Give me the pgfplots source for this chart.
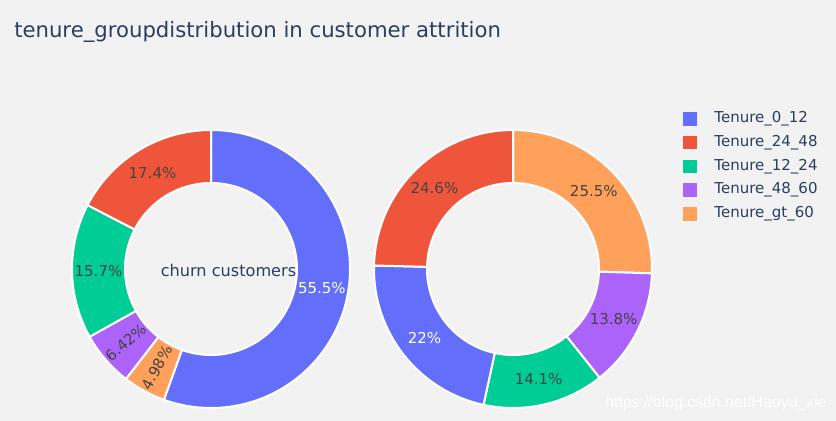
\documentclass[border=0pt]{standalone}
\usepackage{pgfplots}
\pgfplotsset{compat=1.18}
\usepackage{pgfplotstable}
\usepackage{fontspec}
\setmainfont{DejaVu Sans}
\newfontfamily\wmfont{Liberation Sans}

\definecolor{bgc}{HTML}{F2F2F2}
\definecolor{titlec}{HTML}{2A3F5F}
\definecolor{txtdark}{HTML}{444444}
\definecolor{pblue}{HTML}{636EFA}
\definecolor{pred}{HTML}{EF553B}
\definecolor{pgreen}{HTML}{00CC96}
\definecolor{ppurple}{HTML}{AB63FA}
\definecolor{porange}{HTML}{FFA15A}

% slices in drawing order, clockwise from 12 o'clock
\pgfplotstableread{
label value col tc
T0_12 55.5 pblue white
Tgt_60 4.98 porange txtdark
T48_60 6.42 ppurple txtdark
T12_24 15.7 pgreen txtdark
T24_48 17.4 pred txtdark
}\churn
\pgfplotstableread{
label value col tc
Tgt_60 25.5 porange txtdark
T48_60 13.8 ppurple txtdark
T12_24 14.1 pgreen txtdark
T0_12 22 pblue white
T24_48 24.6 pred txtdark
}\other

\newcommand\lblfont{\fontsize{11.25}{13}\selectfont}
\newcommand\titlefont{\fontsize{15.9}{18}\selectfont}
% radii (1px = 0.75pt)
\def\Ro{104.25pt}\def\Ri{64.5pt}\def\Rw{39.75pt}\def\Rm{84.4pt}

\newcommand\donut[3]{%
  \pgfplotstablegetrowsof{#1}\pgfmathtruncatemacro\nlast{\pgfplotsretval-1}%
  \def\cum{0}%
  \pgfplotsforeachungrouped \i in {0,...,\nlast}{%
    \pgfplotstablegetelem{\i}{value}\of{#1}\let\v\pgfplotsretval
    \pgfplotstablegetelem{\i}{col}\of{#1}\let\c\pgfplotsretval
    \pgfplotstablegetelem{\i}{tc}\of{#1}\let\tc\pgfplotsretval
    \pgfmathsetmacro\a{90-3.6*\cum}%
    \pgfmathsetmacro\cum{\cum+\v}%
    \pgfmathsetmacro\b{90-3.6*\cum}%
    \pgfmathsetmacro\m{(\a+\b)/2}%
    \pgfmathsetmacro\rot{\v<8 ? \m+180 : 0}%
    \edef\tmp{%
      \noexpand\fill[\c, draw=white, line width=1.5pt, line join=round]
        (axis cs:#2,#3) ++(\a:\Ro) arc[start angle=\a, end angle=\b, radius=\Ro]
        -- ++(\b:-\Rw) arc[start angle=\b, end angle=\a, radius=\Ri] -- cycle;
      \noexpand\node[text=\tc, font=\noexpand\lblfont, rotate=\rot, inner sep=0pt]
        at ([shift={(\m:\Rm)}]axis cs:#2,#3) {\v\noexpand\%};
    }\tmp
  }}

\begin{document}
\begin{tikzpicture}
\begin{axis}[
  x=0.75pt, y=0.75pt,
  xmin=0, xmax=836, ymin=0, ymax=421,
  hide axis, clip=false,
  legend cell align=left,
  legend style={at={(axis cs:683,310.5)}, anchor=north west,
    draw=none, fill=none, inner sep=0pt, font=\lblfont, text=titlec,
    row sep=5.8pt,
    nodes={inner sep=0pt, text height=9pt, text depth=3pt}},
]
\fill[bgc] (rel axis cs:0,0) rectangle (rel axis cs:1,1);

\donut{\churn}{211}{152}
\donut{\other}{513}{152}

\node[text=titlec, font=\fontsize{12.1}{14}\selectfont] at (axis cs:228.5,151) {churn customers};
\node[anchor=base west, inner sep=0pt, font=\titlefont, text=titlec]
  at (axis cs:14,383.5) {tenure\_groupdistribution in customer attrition};
\node[anchor=west, inner sep=0pt, text=white, font=\wmfont\fontsize{11.9}{13}\selectfont]
  at (axis cs:605,18) {https://blog.csdn.net/Haoyu\_xie};

\addlegendimage{legend image code/.code={\fill[pblue] (0pt,-4.7pt) rectangle (9.4pt,4.7pt); \path (23pt,0pt);}}
\addlegendentry{Tenure\_0\_12}
\addlegendimage{legend image code/.code={\fill[pred] (0pt,-4.7pt) rectangle (9.4pt,4.7pt); \path (23pt,0pt);}}
\addlegendentry{Tenure\_24\_48}
\addlegendimage{legend image code/.code={\fill[pgreen] (0pt,-4.7pt) rectangle (9.4pt,4.7pt); \path (23pt,0pt);}}
\addlegendentry{Tenure\_12\_24}
\addlegendimage{legend image code/.code={\fill[ppurple] (0pt,-4.7pt) rectangle (9.4pt,4.7pt); \path (23pt,0pt);}}
\addlegendentry{Tenure\_48\_60}
\addlegendimage{legend image code/.code={\fill[porange] (0pt,-4.7pt) rectangle (9.4pt,4.7pt); \path (23pt,0pt);}}
\addlegendentry{Tenure\_gt\_60}
\end{axis}
\end{tikzpicture}
\end{document}
